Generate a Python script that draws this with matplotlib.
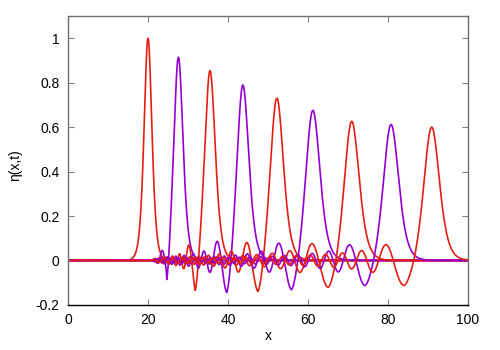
import matplotlib
matplotlib.use("Agg")
import matplotlib.pyplot as plt
import numpy as np

plt.rcParams['font.family'] = ['Liberation Sans', 'DejaVu Sans']
plt.rcParams['font.size'] = 10

# one snapshot per row: soliton peak + first dip/hump of the trailing wave
peak_x = [20.0, 27.6, 35.5, 43.7, 52.2, 61.2, 70.9, 80.75, 90.9]
peak_h = [1.0, 0.915, 0.855, 0.795, 0.735, 0.68, 0.635, 0.615, 0.605]
peak_w = [2.3, 2.7, 3.1, 3.5, 3.9, 4.2, 4.4, 4.5, 4.6]   # width at half height
dip_x = [None, 24.7, 31.8, 39.7, 47.5, 55.9, 65.1, 74.25, 84.0]
dip_y = [None, -0.086, -0.135, -0.145, -0.14, -0.132, -0.121, -0.114, -0.113]
hump_x = [None, 23.4, 30.1, 37.2, 44.6, 52.6, 60.9, 70.3, 79.4]
hump_y = [None, 0.042, 0.068, 0.085, 0.08, 0.077, 0.075, 0.07, 0.071]
tail_start = 21.5   # the ripples die out behind the starting point
colors = ['#e51e10', '#9400d3'] * 5


def airy(z):
    z = np.asarray(z, float)
    out = np.zeros_like(z)
    m = np.abs(z) <= 6
    zs = z[m]
    a = np.ones_like(zs)
    b = zs.copy()
    f = a.copy()
    g = b.copy()
    for k in range(1, 60):
        a = a * zs**3 / ((3*k - 1) * (3*k))
        b = b * zs**3 / ((3*k) * (3*k + 1))
        f += a
        g += b
    out[m] = 0.355028053887817 * f - 0.258819403792807 * g
    n = z < -6
    xn = -z[n]
    out[n] = xn**-0.25 / np.sqrt(np.pi) * np.sin(2/3 * xn**1.5 + np.pi/4)
    return out


def soliton(i, x):
    k = 1.7627 / peak_w[i]
    return peak_h[i] / np.cosh(k * (np.asarray(x) - peak_x[i]))**2


x = np.linspace(0, 100, 4001)

fig = plt.figure(figsize=(5, 3.5), dpi=100)
ax = fig.add_axes([0.136, 0.129, 0.8, 0.825])

for i in range(len(peak_x)):
    eta = soliton(i, x)
    if dip_x[i] is not None:
        L = (dip_x[i] - hump_x[i]) / 2.2294
        x0 = dip_x[i] + 1.0188 * L
        z = (x - x0) / L
        D = -dip_y[i] + soliton(i, dip_x[i])
        H = hump_y[i] - soliton(i, hump_x[i])
        r = min(1.0, H / (D * 0.4190 / 0.5357))
        beta = (1 / r - 1) / 2.2294
        env = np.where(z < -1.0188, 1 / (1 + beta * (-1.0188 - z)), 1.0)
        env = env * 0.5 * (1 + np.tanh((x - tail_start) / 0.8))
        eta = eta - D / 0.5357 * airy(z) * env
    ax.plot(x, eta, color=colors[i], lw=1.2)

ax.set_xlim(0, 100)
ax.set_ylim(-0.2, 1.1)
ax.set_xticks(np.arange(0, 101, 20))
ax.set_yticks([-0.2, 0, 0.2, 0.4, 0.6, 0.8, 1])
ax.set_yticklabels(['-0.2', '0', '0.2', '0.4', '0.6', '0.8', '1'])
ax.tick_params(direction='in', length=4, width=0.8, color='#808080',
               top=True, right=True, pad=6, labelsize=10)
for s in ax.spines.values():
    s.set_color('#707070')
    s.set_linewidth(1.0)
ax.spines['bottom'].set_color('black')

ax.set_xlabel('x')
ax.set_ylabel('η(x,t)')
ax.xaxis.set_label_coords(0.5, -0.085)
ax.yaxis.set_label_coords(-0.115, 0.485)

fig.savefig('out.png', dpi=100)
